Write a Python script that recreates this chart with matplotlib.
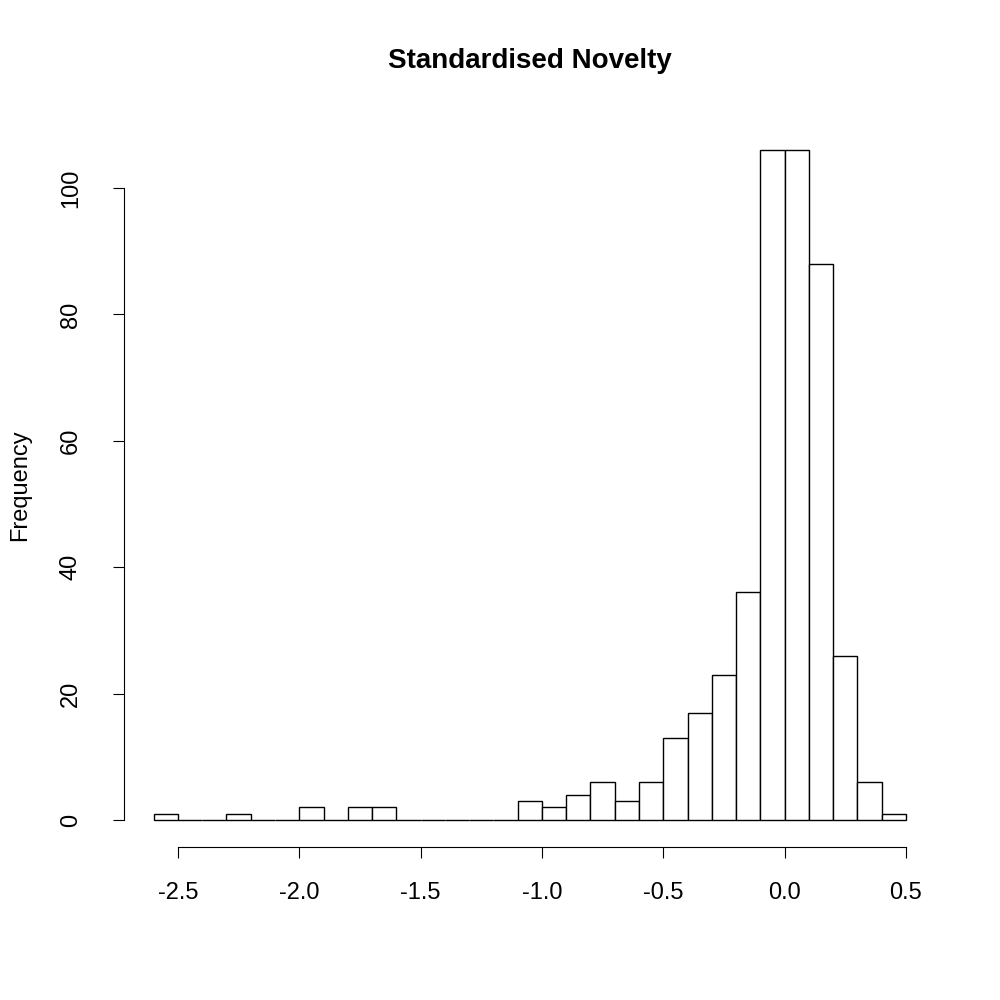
import matplotlib
matplotlib.use("Agg")
import matplotlib.pyplot as plt
import numpy as np

plt.rcParams["font.family"] = "Liberation Sans"

bin_edges = np.round(np.arange(-2.6, 0.51, 0.1), 2)
counts = [1, 0, 0, 1, 0, 0, 2, 0, 2, 2, 0, 0, 0, 0, 0,
          3, 2, 4, 6, 3, 6, 13, 17, 23, 36, 106, 106, 88, 26, 6, 1]
xticks = [-2.5, -2.0, -1.5, -1.0, -0.5, 0.0, 0.5]
yticks = [0, 20, 40, 60, 80, 100]

fig = plt.figure(figsize=(10, 10), dpi=100)
ax = fig.add_axes([0.1236, 0.1532, 0.8124, 0.7235])
ax.bar(bin_edges[:-1], counts, width=0.1, align="edge",
       facecolor="white", edgecolor="black", linewidth=1)
ax.set_xlim(-2.724, 0.624)
ax.set_ylim(-4.24, 110.24)

for s in ["top", "right"]:
    ax.spines[s].set_visible(False)
ax.spines["left"].set_bounds(0, 100)
ax.spines["bottom"].set_bounds(-2.5, 0.5)
ax.set_xticks(xticks)
ax.set_xticklabels([f"{v:.1f}" for v in xticks])
ax.set_yticks(yticks)
ax.set_yticklabels([str(v) for v in yticks], rotation=90, va="center")
ax.tick_params(length=8, labelsize=17)
ax.tick_params(axis="x", pad=17)
ax.tick_params(axis="y", pad=22)

fig.text(0.02, 0.515, "Frequency", fontsize=17, rotation=90,
         ha="center", va="center")
ax.set_title("Standardised Novelty", fontsize=20, fontweight="bold", pad=40)

fig.savefig("out.png")
